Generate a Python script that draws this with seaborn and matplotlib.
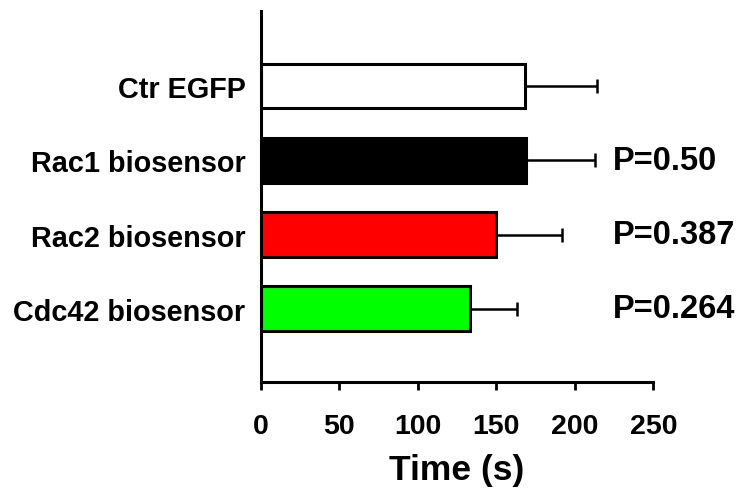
import matplotlib
matplotlib.use("Agg")
import matplotlib.pyplot as plt
import seaborn as sns
import pandas as pd

sns.set_theme(style="ticks")
plt.rcParams['font.family'] = ['Liberation Sans', 'DejaVu Sans']
plt.rcParams['font.weight'] = 'bold'
for key in ['text.color', 'axes.labelcolor', 'xtick.color', 'ytick.color', 'axes.edgecolor']:
    plt.rcParams[key] = 'black'

# data
groups = ["Ctr EGFP", "Rac1 biosensor", "Rac2 biosensor", "Cdc42 biosensor"]
means = [168, 169, 150, 133]
sems = [46, 44, 42, 30]
p_labels = ["", "P=0.50", "P=0.387", "P=0.264"]
bar_colors = ["#ffffff", "#000000", "#ff0000", "#00ff00"]

df = pd.DataFrame({"group": groups, "time": means})

fig = plt.figure(figsize=(7.45, 4.89), dpi=100)
ax = fig.add_axes([0.350, 0.2165, 0.527, 0.7585])

sns.barplot(data=df, x="time", y="group", hue="group", palette=bar_colors,
            saturation=1, orient="h", width=0.6, edgecolor="black",
            linewidth=2.2, legend=False, ax=ax)

# one-sided error bars (mean + SEM)
ax.errorbar(means, range(len(groups)), xerr=[[0] * len(sems), sems],
            fmt="none", ecolor="black", elinewidth=1.8, capsize=4.7,
            capthick=1.8, zorder=1)

for i, lab in enumerate(p_labels):
    if lab:
        ax.text(224, i, lab, fontsize=23.5, fontweight="bold",
                ha="left", va="center", clip_on=False)

ax.set_xlim(0, 250)
ax.set_ylim(3.99, -1.01)
ax.set_xticks([0, 50, 100, 150, 200, 250])
ax.set_xlabel("Time (s)", fontsize=25.5, fontweight="bold", labelpad=10)
ax.set_ylabel("")

ax.tick_params(axis="x", length=6, width=2, labelsize=20.5, pad=16)
ax.tick_params(axis="y", length=0, labelsize=20.8, pad=11)
for lbl in ax.get_xticklabels() + ax.get_yticklabels():
    lbl.set_fontweight("bold")

sns.despine(ax=ax)
for side in ["left", "bottom"]:
    ax.spines[side].set_linewidth(2.2)

fig.savefig("out.png", dpi=100)
